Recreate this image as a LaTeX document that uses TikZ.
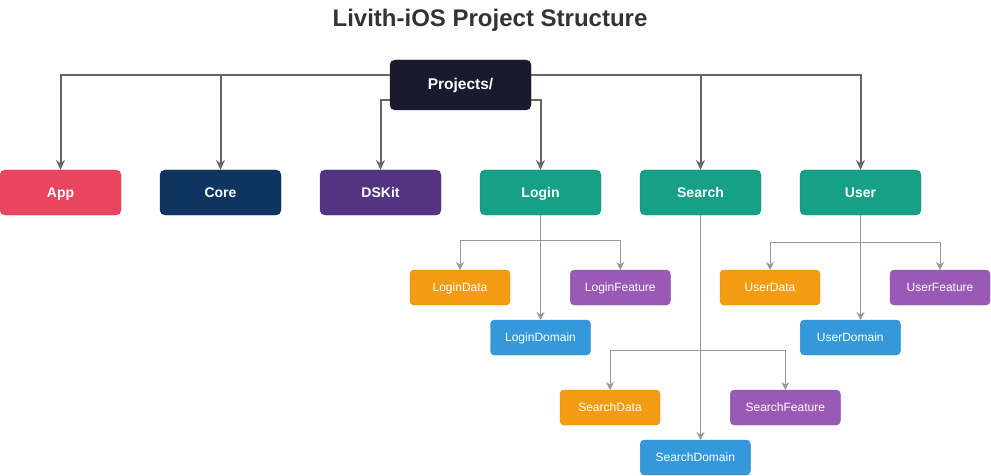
\documentclass[tikz,border=0pt]{standalone}
\usepackage{fontspec}
\setmainfont{Liberation Sans}
\usetikzlibrary{arrows.meta,positioning}
\definecolor{titlec}{HTML}{333333}
\definecolor{rootbg}{HTML}{1A1A2E}
\definecolor{appbg}{HTML}{E94560}
\definecolor{corebg}{HTML}{0F3460}
\definecolor{kitbg}{HTML}{533483}
\definecolor{modbg}{HTML}{16A085}
\definecolor{databg}{HTML}{F39C12}
\definecolor{featbg}{HTML}{9B59B6}
\definecolor{domainbg}{HTML}{3498DB}
\definecolor{trunkc}{HTML}{666666}
\definecolor{twigc}{HTML}{999999}
\tikzset{
  >={Stealth[length=10pt,width=9pt]},
  block/.style={draw,rounded corners=5pt,align=center,text=white,outer sep=0pt,
    text height=0.95em,text depth=0pt,
    font=\fontsize{14}{16}\selectfont\bfseries,minimum width=121pt,minimum height=45pt},
  leaf/.style={draw,rounded corners=4pt,align=center,text=white,outer sep=0pt,
    text height=0.8em,text depth=0pt,
    font=\fontsize{12}{14}\selectfont,minimum width=100pt,minimum height=35pt},
  trunk/.style={->,draw=trunkc,line width=2pt},
  twig/.style={-{Stealth[length=8pt,width=8pt]},draw=twigc,line width=1pt},
}
\begin{document}
\begin{tikzpicture}[x=1pt,y=-1pt]
			\useasboundingbox (0,0) rectangle (991,476);
			\node[font=\fontsize{24}{28}\selectfont\bfseries,text=titlec] (title) at (490,20.5) {Livith-iOS Project Structure};
			\node[block,fill=rootbg,draw=rootbg,minimum width=141pt,minimum height=50pt,font=\fontsize{15.5}{18}\selectfont\bfseries] (proj) at (460.5,85) {Projects/};
			% modules
			\node[block,fill=appbg,draw=appbg!90!black] (app) at (60.5,192.5) {App};
			\node[block,fill=corebg,draw=corebg!90!black,right=39pt of app] (core) {Core};
			\node[block,fill=kitbg,draw=kitbg!90!black,right=39pt of core] (dskit) {DSKit};
			\node[block,fill=modbg,draw=modbg!90!black,right=39pt of dskit] (login) {Login};
			\node[block,fill=modbg,draw=modbg!90!black,right=39pt of login] (search) {Search};
			\node[block,fill=modbg,draw=modbg!90!black,right=39pt of search] (user) {User};
			% layers
			\node[leaf,fill=databg,draw=databg!90!black] (ldata) at (460,287.5) {LoginData};
			\node[leaf,fill=featbg,draw=featbg!90!black] (lfeat) at (620.3,287.5) {LoginFeature};
			\node[leaf,fill=domainbg,draw=domainbg!90!black] (ldomain) at (540.5,337.5) {LoginDomain};
			\node[leaf,fill=databg,draw=databg!90!black] (udata) at (770,287.5) {UserData};
			\node[leaf,fill=featbg,draw=featbg!90!black] (ufeat) at (940,287.5) {UserFeature};
			\node[leaf,fill=domainbg,draw=domainbg!90!black] (udomain) at (850.3,337.5) {UserDomain};
			\node[leaf,fill=databg,draw=databg!90!black] (sdata) at (610,407.5) {SearchData};
			\node[leaf,fill=featbg,draw=featbg!90!black,minimum width=110pt] (sfeat) at (785.3,407.5) {SearchFeature};
			\node[leaf,fill=domainbg,draw=domainbg!90!black,minimum width=110pt] (sdomain) at (695.3,457.5) {SearchDomain};
			\coordinate (lsplit) at (540.5,240);
			\coordinate (usplit) at (860.5,242);
			\coordinate (ssplit) at (700.5,350);
			% projects -> modules
			\draw[trunk] ([yshift=10pt]proj.west) -| (app);
			\draw[trunk] ([yshift=10pt]proj.west) -| (core);
			\draw[trunk] ([yshift=-15pt]proj.west) -| (dskit);
			\draw[trunk] ([yshift=-15pt]proj.east) -| (login);
			\draw[trunk] ([yshift=10pt]proj.east) -| (search);
			\draw[trunk] ([yshift=10pt]proj.east) -| (user);
			% modules -> layers
			\draw[twig] (login) -- (ldomain);
			\draw[twig] (lsplit) -| (ldata);
			\draw[twig] (lsplit) -| (lfeat);
			\draw[twig] (user.south) -- (user.south |- udomain.north);
			\draw[twig] (usplit) -| (udata);
			\draw[twig] (usplit) -| (ufeat);
			\draw[twig] (search.south) -- (search.south |- sdomain.north);
			\draw[twig] (ssplit) -| (sdata);
			\draw[twig] (ssplit) -| (sfeat);
		\end{tikzpicture}
\end{document}
